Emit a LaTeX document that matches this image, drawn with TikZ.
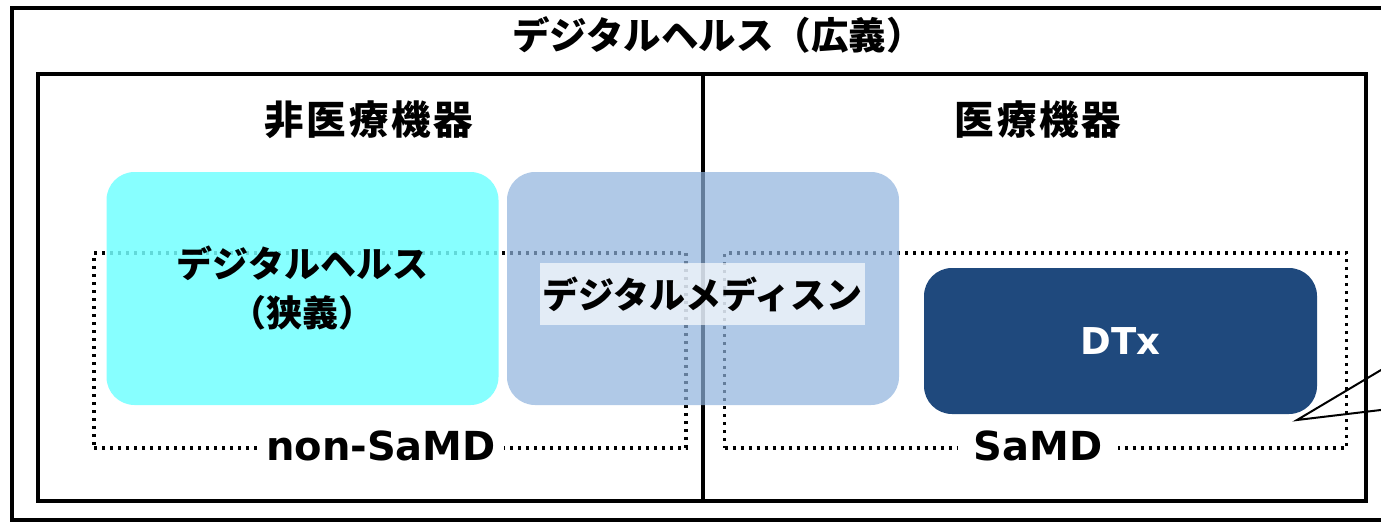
\documentclass[tikz,border=0pt]{standalone}
\usepackage{fontspec}
\newfontfamily\jp{Noto Sans CJK JP}
\newfontfamily\jpwide{Noto Sans CJK JP}[LetterSpace=7]
\newfontfamily\lat{DejaVu Sans}
\definecolor{cyanfill}{RGB}{115,255,255}
\definecolor{medfill}{RGB}{143,179,222}
\definecolor{dtxfill}{RGB}{31,73,125}
\tikzset{
  frame/.style={draw=black, line width=4pt, inner sep=0pt},
  divider/.style={draw=black, line width=3.5pt},
  dotbox/.style={draw=black, line width=3.2pt, dash pattern=on 3pt off 5pt, inner sep=0pt},
  roundbox/.style={rounded corners=28pt, inner sep=0pt, draw=none},
  jplabel/.style={font=\jp\bfseries\fontsize{36}{49}\selectfont, align=center, text=black},
  headlabel/.style={font=\jpwide\bfseries\fontsize{39.5}{44}\selectfont, text=black},
  latlabel/.style={font=\lat\bfseries\fontsize{40}{44}\selectfont, text=black},
  callout/.style={draw=black, line width=2pt},
}
\begin{document}
\begin{tikzpicture}[x=1pt,y=-1pt]
\useasboundingbox (0,0) rectangle (1381,522);
\clip (0,0) rectangle (1381,522);
\fill[white] (0,0) rectangle (1381,522);
% frames
\node[frame, minimum width=1378pt, minimum height=512.5pt] (outer) at (701,263.75) {};
\node[frame, minimum width=1328pt, minimum height=427pt] (inner) at (702,287.5) {};
\draw[divider] ([xshift=1pt]inner.north) -- ([xshift=1pt]inner.south);
% dotted regions
\node[dotbox, minimum width=592pt, minimum height=195pt] (nonsamd) at (390,350.5) {};
\node[dotbox, minimum width=622pt, minimum height=195pt] (samd) at (1035.5,350.5) {};
% titles
\node[jplabel, font=\jp\bfseries\fontsize{37.5}{44}\selectfont] (title) at (718,35) {デジタルヘルス（広義）};
\node[headlabel] (nonmed) at (369,120) {非医療機器};
\node[headlabel] (med) at (1038,120) {医療機器};
% boxes
\node[roundbox, fill=cyanfill, fill opacity=0.85, text opacity=1, jplabel, minimum width=392pt, minimum height=233pt] (dh) at (302.5,288.5) {デジタルヘルス\\（狭義）};
\node[roundbox, fill=medfill, fill opacity=0.7, minimum width=392pt, minimum height=233pt] (dm) at (703,288.5) {};
\node[fill=white, fill opacity=0.65, text opacity=1, jplabel, minimum width=325pt, minimum height=62pt, inner sep=0pt] (dmlabel) at (702.5,294) {デジタルメディスン};
\node[roundbox, fill=dtxfill, minimum width=393pt, minimum height=146pt, font=\lat\bfseries\fontsize{37}{42}\selectfont, text=white] (dtx) at (1120.5,341) {DTx};
% labels on dotted regions
\node[latlabel, fill=white, inner xsep=8pt, inner ysep=4pt] (nslabel) at (381,446) {non-SaMD};
\node[latlabel, fill=white, inner xsep=16pt, inner ysep=4pt] (slabel) at (1038,446) {SaMD};
% callout
\coordinate (cp) at (1297,420);
\coordinate (c1) at (1400,358.7);
\coordinate (c2) at (1400,407.7);
\draw[callout] (c1) -- (cp) -- (c2);
\end{tikzpicture}
\end{document}
